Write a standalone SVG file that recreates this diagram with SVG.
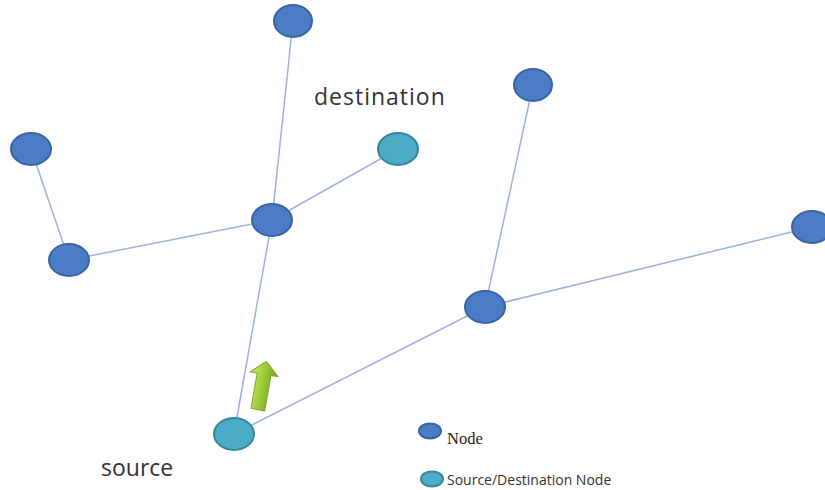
<svg xmlns="http://www.w3.org/2000/svg" width="825" height="490" viewBox="0 0 825 490">
  <defs>
    <linearGradient id="arrowFill" x1="0" y1="0" x2="1" y2="0">
      <stop offset="0" stop-color="#c8ee6a"/>
      <stop offset="0.5" stop-color="#9ccc3a"/>
      <stop offset="1" stop-color="#6f9e22"/>
    </linearGradient>
    <style>
      .edge { stroke: #9fb2d9; stroke-width: 1.5; fill: none; }
      .node { fill: #4a7dc5; stroke: #3a63a3; stroke-width: 2; }
      .sd { fill: #4aacc5; stroke: #37869e; stroke-width: 2; }
      .label { font-family: "Open Sans", "Liberation Sans", sans-serif; fill: #333333; }
      .legend-serif { font-family: "Liberation Serif", serif; fill: #222222; }
    </style>
  </defs>

  <rect width="825" height="490" fill="#ffffff"/>

  <!-- links between nodes -->
  <g id="connectors">
    <line class="edge" x1="293" y1="21" x2="272" y2="220"/>
    <line class="edge" x1="272" y1="220" x2="398" y2="149"/>
    <line class="edge" x1="272" y1="220" x2="69" y2="260"/>
    <line class="edge" x1="69" y1="260" x2="31" y2="149"/>
    <line class="edge" x1="272" y1="220" x2="234" y2="434"/>
    <line class="edge" x1="234" y1="434" x2="485" y2="307"/>
    <line class="edge" x1="485" y1="307" x2="533" y2="85"/>
    <line class="edge" x1="485" y1="307" x2="812" y2="227"/>
  </g>

  <g id="n-top"><ellipse class="node" cx="293" cy="21" rx="19" ry="16"/></g>
  <g id="n-upper-left"><ellipse class="node" cx="31" cy="149" rx="20" ry="16"/></g>
  <g id="n-left"><ellipse class="node" cx="69" cy="260" rx="20" ry="16"/></g>
  <g id="n-hub"><ellipse class="node" cx="272" cy="220" rx="20" ry="16"/></g>
  <g id="n-destination"><ellipse class="sd" cx="398" cy="149" rx="20" ry="16"/></g>
  <g id="n-right-top"><ellipse class="node" cx="533" cy="85" rx="19" ry="16"/></g>
  <g id="n-right-hub"><ellipse class="node" cx="485" cy="307" rx="20" ry="16"/></g>
  <g id="n-right"><ellipse class="node" cx="812" cy="227" rx="20" ry="16"/></g>
  <g id="n-source"><ellipse class="sd" cx="234" cy="434" rx="20" ry="16"/></g>

  <!-- direction arrow -->
  <g id="direction-arrow" transform="translate(262 386) rotate(10)">
    <path d="M0,-25 L14,-12 L7,-12 L7,24 L-7,24 L-7,-12 L-14,-12 Z" fill="url(#arrowFill)" stroke="#7fa52c" stroke-width="1"/>
  </g>

  <text class="label" x="314" y="105" font-size="23" letter-spacing="1">destination</text>
  <text class="label" x="101" y="476" font-size="23">source</text>

  <!-- legend -->
  <g id="legend">
    <ellipse class="node" cx="430" cy="431" rx="11" ry="7.5" stroke-width="1.5"/>
    <text class="legend-serif" x="447" y="444" font-size="16.5">Node</text>
    <ellipse class="sd" cx="432" cy="479" rx="11" ry="7.5" stroke-width="1.5"/>
    <text class="label" x="447" y="485" font-size="14" fill="#222222">Source/Destination Node</text>
  </g>
</svg>
